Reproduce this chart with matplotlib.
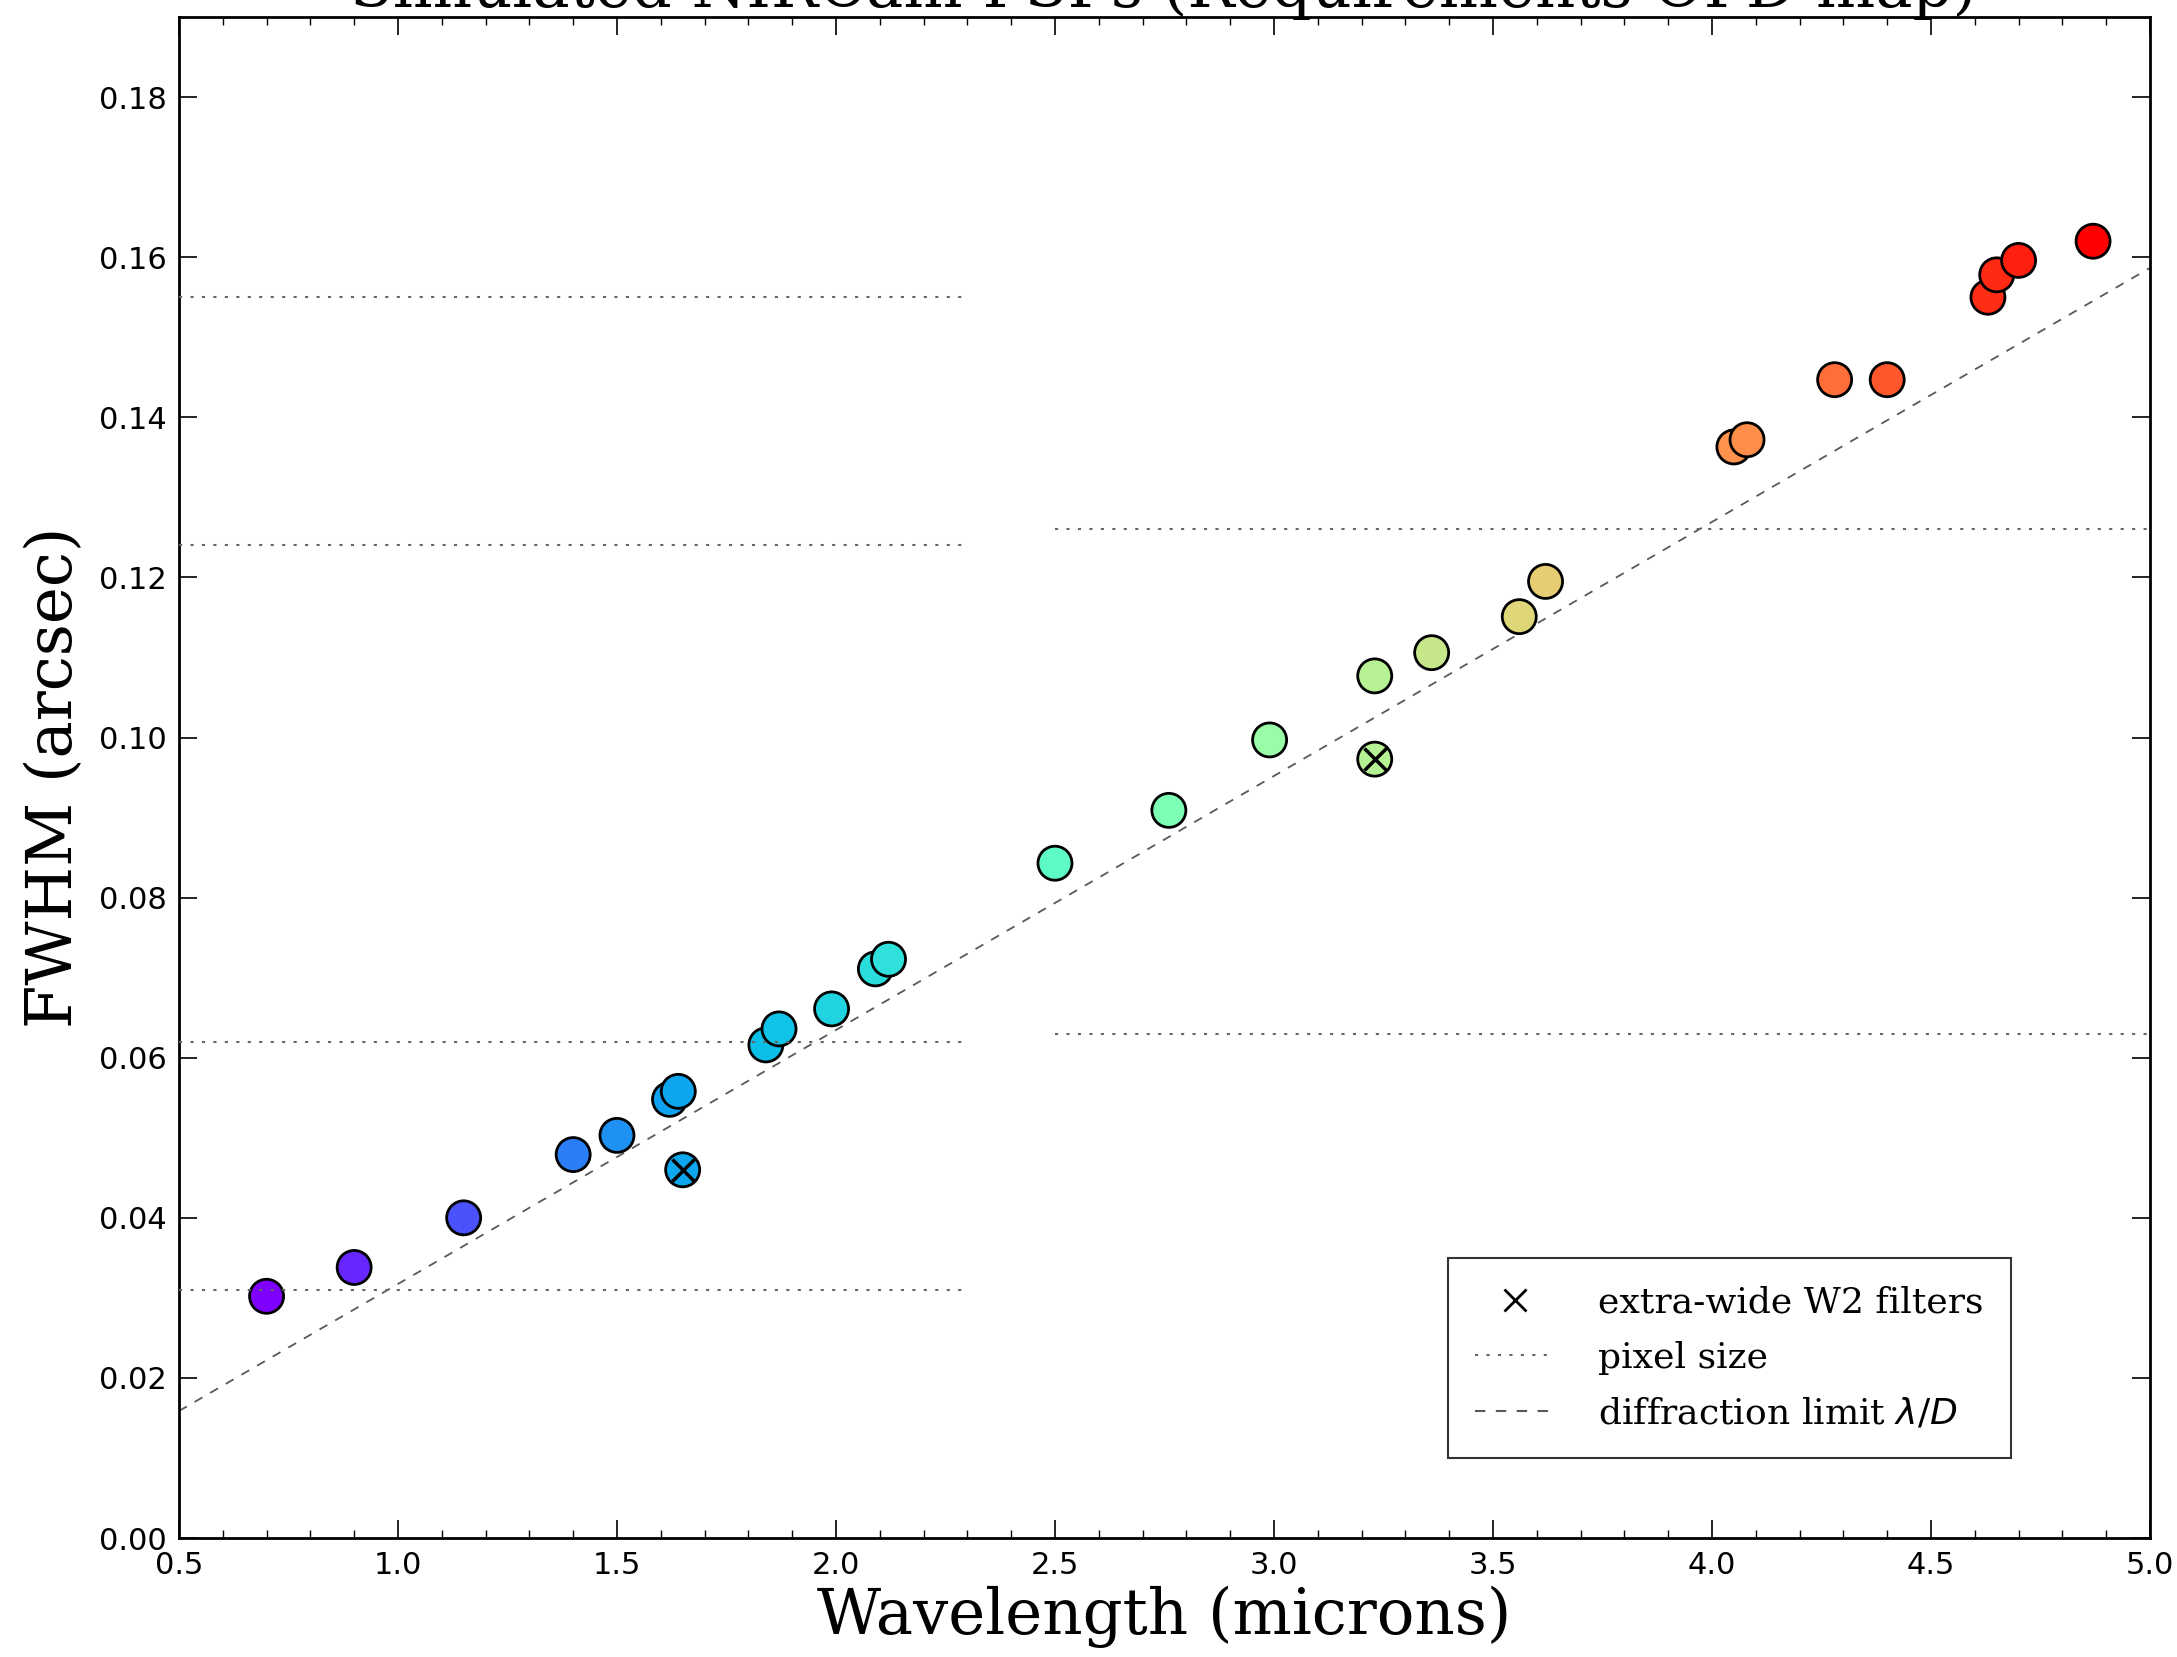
import numpy as np
import matplotlib.pyplot as plt
from matplotlib.lines import Line2D
from matplotlib.ticker import MultipleLocator

# NIRCam filter pivot wavelengths (microns) and measured PSF FWHM (arcsec)
filters = ["F070W", "F090W", "F115W", "F140M", "F150W", "F162M", "F164N",
           "F150W2", "F182M", "F187N", "F200W", "F210M", "F212N", "F250M",
           "F277W", "F300M", "F322W2", "F323N", "F335M", "F356W", "F360M",
           "F405N", "F410M", "F430M", "F444W", "F460M", "F466N", "F470N",
           "F480M"]
wavelength = [0.70, 0.90, 1.15, 1.40, 1.50, 1.62, 1.64,
              1.65, 1.84, 1.87, 1.99, 2.09, 2.12, 2.50,
              2.76, 2.99, 3.23, 3.23, 3.36, 3.56, 3.62,
              4.05, 4.08, 4.28, 4.40, 4.63, 4.65, 4.70,
              4.87]
fwhm = [0.0302, 0.0338, 0.0400, 0.0479, 0.0503, 0.0548, 0.0558,
        0.0460, 0.0616, 0.0636, 0.0661, 0.0711, 0.0723, 0.0843,
        0.0909, 0.0997, 0.0973, 0.1077, 0.1106, 0.1151, 0.1195,
        0.1363, 0.1372, 0.1447, 0.1447, 0.1550, 0.1578, 0.1596,
        0.1620]
extra_wide = ["F150W2", "F322W2"]

# detector pixel scales (arcsec) and the wavelength span each is drawn over
sw_pixel_levels = [0.031, 0.062, 0.124, 0.155]
sw_span = [0.5, 2.3]
lw_pixel_levels = [0.063, 0.126]
lw_span = [2.5, 5.0]

telescope_diameter = 6.5  # metres
rad_to_arcsec = 206265.0

wavelength = np.array(wavelength)
fwhm = np.array(fwhm)

fig = plt.figure(figsize=(21.77, 16.57), dpi=100)
ax = fig.add_axes([0.0822, 0.0718, 0.9054, 0.9179])

# diffraction limit lambda/D
lam = np.linspace(0.5, 5.0, 50)
ax.plot(lam, lam * 1e-6 / telescope_diameter * rad_to_arcsec,
        linestyle=(0, (5, 5)), color="0.35", linewidth=1.3, zorder=1)

ax.scatter(wavelength, fwhm, c=wavelength, cmap="rainbow",
           s=600, edgecolors="black", linewidths=2.0, zorder=2)

wide_mask = np.array([f in extra_wide for f in filters])
ax.plot(wavelength[wide_mask], fwhm[wide_mask], linestyle="none",
        marker="x", markersize=16, markeredgewidth=2.5, color="black",
        zorder=3)

for level in sw_pixel_levels:
    ax.plot(sw_span, [level, level], linestyle=(0, (1.5, 4)),
            color="0.4", linewidth=1.5, zorder=3)
for level in lw_pixel_levels:
    ax.plot(lw_span, [level, level], linestyle=(0, (1.5, 4)),
            color="0.4", linewidth=1.5, zorder=3)

ax.set_xlim(0.5, 5.0)
ax.set_ylim(0.0, 0.19)
ax.xaxis.set_major_locator(MultipleLocator(0.5))
ax.xaxis.set_minor_locator(MultipleLocator(0.1))
ax.yaxis.set_major_locator(MultipleLocator(0.02))
ax.tick_params(which="both", direction="in", top=True, right=True,
               labelsize=22)
ax.tick_params(which="major", length=13, width=1.2, pad=9)
ax.tick_params(which="minor", length=6, width=1.0)
for spine in ax.spines.values():
    spine.set_linewidth(2)

ax.set_xlabel("Wavelength (microns)", family="DejaVu Serif", fontsize=45,
              labelpad=4)
ax.set_ylabel("FWHM (arcsec)", family="DejaVu Serif", fontsize=45,
              labelpad=10)

fig.text(0.5345, 0.9955, "Simulated NIRCam PSFs (Requirements OPD map)",
         family="DejaVu Serif", fontsize=45, ha="center", va="baseline")

handles = [
    Line2D([], [], linestyle="none", marker="x", markersize=16,
           markeredgewidth=2.0, color="black"),
    Line2D([], [], linestyle=(0, (1.5, 4)), color="0.4", linewidth=1.5),
    Line2D([], [], linestyle=(0, (5, 5)), color="0.35", linewidth=1.5),
]
labels = ["extra-wide W2 filters", "pixel size", r"diffraction limit $\lambda/D$"]
leg = ax.legend(handles, labels, loc="upper left",
                bbox_to_anchor=(0.644, 0.184), borderaxespad=0,
                prop={"family": "DejaVu Serif", "size": 26},
                handlelength=2.2, handletextpad=1.2, labelspacing=0.6,
                borderpad=0.75, fancybox=False, frameon=True)
leg.get_frame().set_edgecolor("black")
leg.get_frame().set_linewidth(1.5)

fig.savefig("out.png", dpi=100)
